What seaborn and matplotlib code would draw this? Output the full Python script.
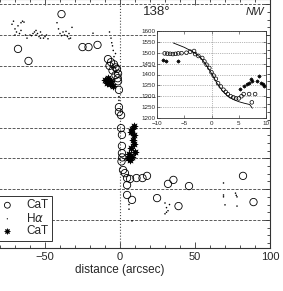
import numpy as np
import pandas as pd
import seaborn as sns
import matplotlib.pyplot as plt
from matplotlib.ticker import MultipleLocator

# main panel: velocity vs distance along PA 138
cat_open_x = [-39, -68, -61, -25, -21, -15,
              -8, -6, -4, -3, -7, -2, -5, -1.3, -3, -1.5, -1.3, -0.7, -0.7, -0.7,
              0.7, 0.7, 1.3, 1.3, 1.3, 1.5, 1.0, 2.0, 3.3, 4.7, 4.7, 6.7,
              11, 15, 18, 4.7, 8, 24.7, 32, 35.6, 39, 46, 82, 89]
cat_open_v = [1768, 1655, 1616, 1661, 1661, 1668,
              1622, 1612, 1605, 1595, 1600, 1590, 1585, 1575, 1570, 1560, 1550, 1522, 1466, 1450,
              1440, 1398, 1376, 1340, 1317, 1303, 1290, 1262, 1252, 1236, 1213, 1233,
              1236, 1236, 1243, 1181, 1165, 1171, 1217, 1230, 1145, 1210, 1243, 1158]

ha_x = [-72, -71, -70, -69, -70, -68, -67, -66, -65, -64, -66, -63,
        -60, -58, -57, -56, -55, -54, -53, -52, -51, -50, -49, -53, -56, -48, -59, -62,
        -42, -41, -40, -39, -38, -37, -35, -34, -33, -32, -34, -36,
        -18, -7, -6, -5.5, -5, -4.5, -3, -4, -0.7, -0.7, 6, 6, 8,
        30, 31, 32, 30, 33, 31, 69, 69, 69, 70, 77, 78, 78, 77.5]
ha_v = [1735, 1745, 1720, 1710, 1700, 1730, 1705, 1740, 1745, 1742, 1715, 1700,
        1700, 1705, 1710, 1700, 1705, 1695, 1710, 1700, 1690, 1695, 1700, 1690, 1715, 1688, 1698, 1690,
        1740, 1720, 1705, 1698, 1710, 1700, 1695, 1705, 1690, 1725, 1688, 1712,
        1706, 1710, 1690, 1675, 1665, 1650, 1640, 1630, 1500, 1488, 1150, 1135, 1097,
        1155, 1140, 1130, 1120, 1150, 1125, 1220, 1181, 1175, 1149, 1187, 1175, 1145, 1180]

cat_star_x = [-10, -9, -8, -7, -6, -5,
              9, 8, 7, 9.5, 8.5, 9, 7.5, 10, 6, 8, 5, 6.5]
cat_star_v = [1555, 1545, 1560, 1540, 1550, 1535,
              1405, 1395, 1385, 1375, 1360, 1345, 1335, 1320, 1315, 1305, 1300, 1295]

# inset: central +-10 arcsec
in_open_x = [-8.6, -8.1, -7.6, -7.1, -6.6, -6.1, -5.5, -4.6, -3.9, -3.2, -3.0, -2.4, -1.7,
             -1.3, -0.9, -0.4, 0.0, 0.4, 0.8, 1.2, 1.7, 2.2, 2.6, 3.0, 3.5, 4.0, 4.5, 5.0,
             5.5, 5.9, 6.9, 8.0, 7.4]
in_open_v = [1497, 1496, 1495, 1494, 1495, 1497, 1498, 1500, 1505, 1508, 1494, 1485, 1476,
             1460, 1445, 1430, 1410, 1395, 1380, 1360, 1345, 1330, 1320, 1310, 1300, 1295, 1290, 1290,
             1300, 1310, 1310, 1310, 1272]
in_star_x = [-8.9, -8.3, -6.1, 5.3, 5.9, 6.5, 6.9, 7.2, 7.4, 8.4, 8.8, 9.1, 9.4, 9.7]
in_star_v = [1467, 1462, 1462, 1333, 1347, 1356, 1361, 1379, 1370, 1370, 1393, 1361, 1355, 1347]
in_line_x = [-7, -6, -5, -4, -3, -2, -1, 0, 1, 2, 3, 4, 5, 6, 7, 7.5]
in_line_v = [1545, 1535, 1525, 1512, 1498, 1478, 1445, 1405, 1360, 1325, 1300, 1285, 1275, 1268, 1262, 1245]

sns.set_style("ticks")
plt.rcParams['font.family'] = ['Liberation Sans', 'DejaVu Sans']

fig = plt.figure(figsize=(2.83, 2.91), dpi=100)
W, H = 283.0, 291.0
ax = fig.add_axes([-30 / W, 43 / H, 300 / W, 249 / H])

sns.scatterplot(x=cat_open_x, y=cat_open_v, ax=ax, marker='o', s=28,
                facecolors='none', edgecolors='black', linewidth=0.6, label='CaT', zorder=3)
sns.scatterplot(x=ha_x, y=ha_v, ax=ax, marker='.', s=5, color='black',
                edgecolor='none', label=r'H$\alpha$', zorder=3)
sns.scatterplot(x=cat_star_x, y=cat_star_v, ax=ax, marker=(8, 1, 0), s=28,
                color='black', edgecolor='black', linewidth=0.4, label='CaT', zorder=3)

ax.set_xlim(-100, 100)
ax.set_ylim(1009, 1817)
ax.set_xticks([-50, 0, 50, 100])
ax.xaxis.set_minor_locator(MultipleLocator(10))
ax.yaxis.set_major_locator(MultipleLocator(100))
ax.yaxis.set_minor_locator(MultipleLocator(25))
ax.tick_params(which='both', direction='in', top=True, right=True, labelleft=False,
               labelsize=8, pad=3, width=0.6, color='0.2')
ax.tick_params(which='major', length=4)
ax.tick_params(which='minor', length=2.5)
ax.grid(axis='y', which='major', ls=(0, (3, 1.5)), color='0.35', lw=0.7)
ax.axvline(0, ls=':', color='0.3', lw=0.8, zorder=1)
for sp in ax.spines.values():
    sp.set_linewidth(0.8)
    sp.set_color('0.2')
ax.set_xlabel('distance (arcsec)', fontsize=8.5, labelpad=1)
ax.set_ylabel('')

ax.text(15, 1775, '138°', fontsize=9.5, va='center', ha='left')
ax.text(96, 1775, 'NW', fontsize=8, style='italic', va='center', ha='right')

handles, labels = ax.get_legend_handles_labels()
leg = ax.legend(handles, labels, loc='lower right', bbox_to_anchor=(0.273, 0.028),
                fontsize=8.5, frameon=True, fancybox=False, framealpha=1,
                edgecolor='0.2', labelspacing=0.05, borderpad=0.3,
                handletextpad=0.6, borderaxespad=0, markerscale=0.8)
leg.get_frame().set_linewidth(0.7)

# inset
axi = fig.add_axes([157 / W, (H - 118) / H, 109 / W, 87 / H])
axi.set_facecolor('white')
axi.set_zorder(5)
sns.lineplot(x=in_line_x, y=in_line_v, ax=axi, color='black', lw=0.6, zorder=2)
sns.scatterplot(x=in_open_x, y=in_open_v, ax=axi, marker='o', s=7,
                facecolors='none', edgecolors='black', linewidth=0.5, zorder=3)
sns.scatterplot(x=in_star_x, y=in_star_v, ax=axi, marker=(8, 1, 0), s=8,
                color='black', edgecolor='black', linewidth=0.3, zorder=3)
axi.set_xlim(-10, 10)
axi.set_ylim(1200, 1600)
axi.set_xticks([-10, -5, 0, 5, 10])
axi.set_yticks(np.arange(1200, 1601, 50))
axi.tick_params(direction='in', top=True, right=True, labelsize=4.5, length=2,
                width=0.4, pad=1)
axi.tick_params(axis='x', pad=2.5)
axi.grid(axis='y', ls=':', color='0.45', lw=0.5)
axi.axvline(0, ls=':', color='0.45', lw=0.5, zorder=1)
for sp in axi.spines.values():
    sp.set_linewidth(0.6)
    sp.set_color('0.2')

fig.savefig('out.png', dpi=100)
